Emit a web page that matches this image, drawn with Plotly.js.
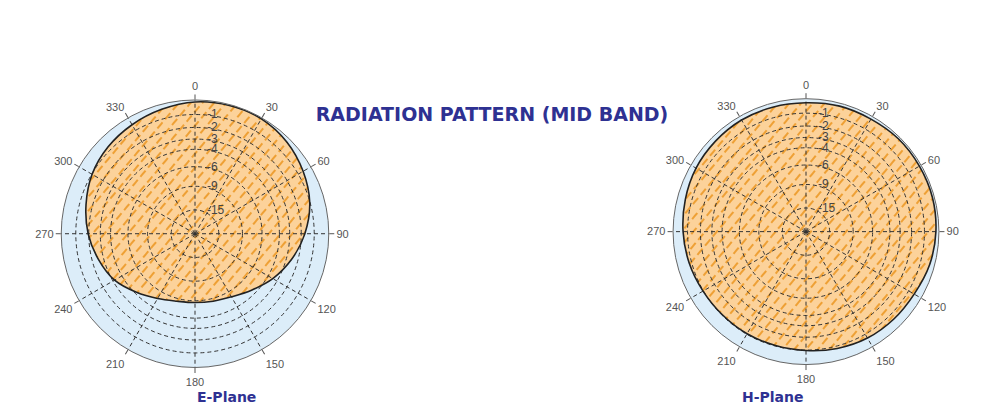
<!DOCTYPE html>
<html><head><meta charset="utf-8">
<script src="https://cdn.plot.ly/plotly-3.0.1.min.js"></script>
<style>html,body{margin:0;padding:0;background:#fff}#chart{width:1000px;height:420px}</style>
</head><body><div id="chart"></div>
<script>
// ---- data ----
const angles = [0,15,30,45,60,75,90,105,120,135,150,165,180,195,210,225,240,255,270,285,300,315,330,345];
const ePlaneDb = [-0.13,-0.07,-0.07,-0.26,-0.60,-1.03,-1.71,-2.54,-3.46,-4.48,-5.28,-5.64,-5.77,-5.64,-5.04,-4.16,-3.17,-2.54,-1.95,-1.48,-1.03,-0.74,-0.53,-0.33];
const hPlaneDb = [-0.27,-0.20,-0.20,-0.13,-0.13,-0.13,-0.20,-0.33,-0.54,-0.61,-0.68,-0.82,-0.97,-1.04,-1.04,-1.04,-0.97,-0.82,-0.68,-0.54,-0.40,-0.33,-0.27,-0.27];
const ringDb = [-1,-2,-3,-4,-6,-9,-15];
const ringLabels = ['-1','-2','-3','-4','-6','-9','-15'];
const angleTicks = [0,30,60,90,120,150,180,210,240,270,300,330];
const planeNames = ['E-Plane','H-Plane'];
const chartTitle = 'RADIATION PATTERN (MID BAND)';

// dB -> relative field amplitude (radial scale of the chart)
const toR = db => Math.pow(10, db / 20);
const closed = a => a.concat([a[0]]);

const navy = '#2e3192';
const gray = '#555';
const dash = '4px,3px';
const orange = '#fcd29a';

function fillTrace(db, sub) {
  return {
    type: 'scatterpolar', subplot: sub, mode: 'lines',
    r: closed(db.map(toR)), theta: closed(angles),
    line: {width: 0, shape: 'spline', smoothing: 1, color: 'rgba(0,0,0,0)'},
    fill: 'toself', fillcolor: orange,
    hoverinfo: 'skip'
  };
}
function lineTrace(db, sub) {
  return {
    type: 'scatterpolar', subplot: sub, mode: 'lines',
    r: closed(db.map(toR)), theta: closed(angles),
    line: {width: 1.6, shape: 'spline', smoothing: 1, color: '#222'},
    hoverinfo: 'skip'
  };
}
function basePolar(dom) {
  return {
    domain: dom, bgcolor: '#dcedf9',
    angularaxis: {rotation: 90, direction: 'clockwise', showgrid: false, showticklabels: false, ticks: '', showline: false},
    radialaxis: {range: [0, 1], visible: false}
  };
}
function topPolar(dom) {
  return {
    domain: dom, bgcolor: 'rgba(0,0,0,0)',
    angularaxis: {
      rotation: 90, direction: 'clockwise', tickmode: 'array', tickvals: angleTicks,
      showgrid: true, gridcolor: '#333', griddash: dash, gridwidth: 1,
      ticks: 'outside', ticklen: 5, tickcolor: gray,
      showline: true, linecolor: '#666', linewidth: 1,
      tickfont: {family: 'Liberation Sans, Arial, sans-serif', size: 11, color: '#555'}
    },
    radialaxis: {
      range: [0, 1], tickmode: 'array', tickvals: ringDb.map(toR), ticktext: ringLabels,
      showgrid: true, gridcolor: '#333', griddash: dash, gridwidth: 1,
      showline: false, ticks: 'outside', ticklen: 9, tickcolor: 'rgba(0,0,0,0)',
      angle: 90, side: 'clockwise', tickangle: 90,
      tickfont: {family: 'Liberation Sans, Arial, sans-serif', size: 12, color: '#444'}
    }
  };
}

const eDom = {x: [0.061, 0.329], y: [0.125, 0.762]};
const hDom = {x: [0.673, 0.939], y: [0.132, 0.765]};

const data = [
  fillTrace(ePlaneDb, 'polar'),
  lineTrace(ePlaneDb, 'polar2'),
  fillTrace(hPlaneDb, 'polar3'),
  lineTrace(hPlaneDb, 'polar4')
];

const layout = {
  width: 1000, height: 420,
  margin: {l: 0, r: 0, t: 0, b: 0},
  paper_bgcolor: '#fff', showlegend: false,
  title: {text: '<b>' + chartTitle + '</b>', x: 0.492, xanchor: 'center', y: 0.728, yanchor: 'middle',
          font: {family: 'DejaVu Sans, sans-serif', size: 19, color: navy}},
  polar: basePolar(eDom),
  polar2: topPolar(eDom),
  polar3: basePolar(hDom),
  polar4: topPolar(hDom),
  annotations: [
    {text: '<b>' + planeNames[0] + '</b>', x: 0.195, y: 0.055, xref: 'paper', yref: 'paper', yanchor: 'middle', showarrow: false,
     font: {family: 'DejaVu Sans, sans-serif', size: 14, color: navy}},
    {text: '<b>' + planeNames[1] + '</b>', x: 0.806, y: 0.055, xref: 'paper', yref: 'paper', yanchor: 'middle', showarrow: false,
     font: {family: 'DejaVu Sans, sans-serif', size: 14, color: navy}}
  ]
};

Plotly.newPlot('chart', data, layout, {staticPlot: true, displayModeBar: false}).then(gd => {
  // diagonal dashed hatching over the orange pattern fill
  const NS = 'http://www.w3.org/2000/svg';
  const svg = gd.querySelector('svg.main-svg');
  let defs = svg.querySelector('defs');
  if (!defs) { defs = document.createElementNS(NS, 'defs'); svg.insertBefore(defs, svg.firstChild); }
  const pat = document.createElementNS(NS, 'pattern');
  pat.setAttribute('id', 'hatchOrange');
  pat.setAttribute('patternUnits', 'userSpaceOnUse');
  pat.setAttribute('width', '9');
  pat.setAttribute('height', '12');
  pat.setAttribute('patternTransform', 'rotate(40)');
  const bg = document.createElementNS(NS, 'rect');
  bg.setAttribute('width', '9'); bg.setAttribute('height', '12'); bg.setAttribute('fill', orange);
  const ln = document.createElementNS(NS, 'line');
  ln.setAttribute('x1', '2'); ln.setAttribute('y1', '0'); ln.setAttribute('x2', '2'); ln.setAttribute('y2', '12');
  ln.setAttribute('stroke', '#eea035'); ln.setAttribute('stroke-width', '2');
  ln.setAttribute('stroke-dasharray', '8,4');
  pat.appendChild(bg); pat.appendChild(ln);
  defs.appendChild(pat);
  gd.querySelectorAll('path.js-fill').forEach(p => { p.style.fill = 'url(#hatchOrange)'; });
});
</script>
</body></html>
